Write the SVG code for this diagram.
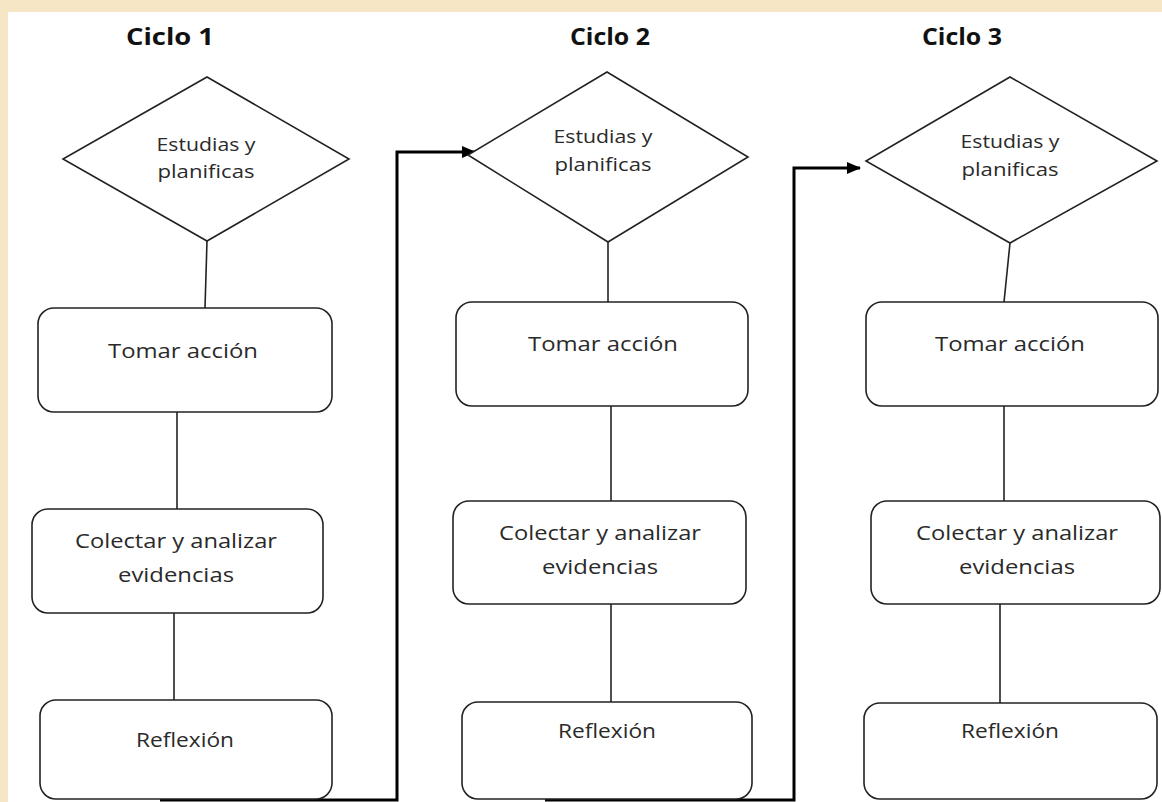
<svg xmlns="http://www.w3.org/2000/svg" width="1162" height="802" viewBox="0 0 1162 802">
<defs>
<style>
.bg{fill:#f6e6c5}
.panel{fill:#ffffff}
.shape{fill:#ffffff;stroke:#222;stroke-width:1.6}
.lbl{font-family:"Open Sans","Noto Sans",sans-serif;fill:#2a2a2a;text-anchor:middle}
.box{font-size:20px}
.dia{font-size:18.5px}
.title{font-family:"Open Sans","Noto Sans",sans-serif;font-weight:bold;font-size:23px;fill:#111;text-anchor:middle}
.thin{fill:none;stroke:#222;stroke-width:1.6}
.thick{fill:none;stroke:#000;stroke-width:3}
</style>
<marker id="arr" markerWidth="14" markerHeight="12" refX="13" refY="6" orient="auto" markerUnits="userSpaceOnUse" viewBox="0 0 14 12">
<path d="M0,0 L14,6 L0,12 z" fill="#000"/>
</marker>
</defs>
<rect class="bg" x="0" y="0" width="1162" height="802"/>
<rect class="panel" x="8" y="12" width="1154" height="790"/>

<g id="titles">
<text class="title" x="170" y="45" textLength="88" lengthAdjust="spacingAndGlyphs">Ciclo 1</text>
<text class="title" x="610" y="45" textLength="80" lengthAdjust="spacingAndGlyphs">Ciclo 2</text>
<text class="title" x="962" y="45" textLength="80" lengthAdjust="spacingAndGlyphs">Ciclo 3</text>
</g>

<g id="connectors">
<path class="thin" d="M207,241 L205,308"/>
<path class="thin" d="M177,412 L177,509"/>
<path class="thin" d="M174,613 L174,700"/>
<path class="thin" d="M608,242 L608,302"/>
<path class="thin" d="M611,406 L611,501"/>
<path class="thin" d="M611,604 L611,702"/>
<path class="thin" d="M1010,243 L1004,302"/>
<path class="thin" d="M1004,406 L1004,501"/>
<path class="thin" d="M1000,604 L1000,703"/>
<path class="thick" d="M160,800 L397,800 L397,152 L475,152" marker-end="url(#arr)"/>
<path class="thick" d="M545,800 L794,800 L794,168 L860,168" marker-end="url(#arr)"/>
</g>

<g id="c1-plan">
<polygon class="shape" points="207,77 349,159 207,241 63,159"/>
<text class="lbl dia" x="206" y="151" textLength="99" lengthAdjust="spacingAndGlyphs">Estudias y</text>
<text class="lbl dia" x="206" y="178" textLength="97" lengthAdjust="spacingAndGlyphs">planificas</text>
</g>
<g id="c1-accion">
<rect class="shape" x="38" y="308" width="294" height="104" rx="16"/>
<text class="lbl box" x="183" y="358" textLength="150" lengthAdjust="spacingAndGlyphs">Tomar acción</text>
</g>
<g id="c1-colectar">
<rect class="shape" x="32" y="509" width="291" height="104" rx="16"/>
<text class="lbl box" x="176" y="548" textLength="202" lengthAdjust="spacingAndGlyphs">Colectar y analizar</text>
<text class="lbl box" x="176" y="582" textLength="116" lengthAdjust="spacingAndGlyphs">evidencias</text>
</g>
<g id="c1-reflexion">
<rect class="shape" x="40" y="700" width="292" height="99" rx="16"/>
<text class="lbl box" x="185" y="747" textLength="98" lengthAdjust="spacingAndGlyphs">Reflexión</text>
</g>

<g id="c2-plan">
<polygon class="shape" points="607,72 748,157 608,242 468,155"/>
<text class="lbl dia" x="603" y="143" textLength="99" lengthAdjust="spacingAndGlyphs">Estudias y</text>
<text class="lbl dia" x="603" y="171" textLength="97" lengthAdjust="spacingAndGlyphs">planificas</text>
</g>
<g id="c2-accion">
<rect class="shape" x="456" y="302" width="292" height="104" rx="16"/>
<text class="lbl box" x="603" y="351" textLength="150" lengthAdjust="spacingAndGlyphs">Tomar acción</text>
</g>
<g id="c2-colectar">
<rect class="shape" x="453" y="501" width="293" height="103" rx="16"/>
<text class="lbl box" x="600" y="540" textLength="202" lengthAdjust="spacingAndGlyphs">Colectar y analizar</text>
<text class="lbl box" x="600" y="574" textLength="116" lengthAdjust="spacingAndGlyphs">evidencias</text>
</g>
<g id="c2-reflexion">
<rect class="shape" x="462" y="702" width="290" height="97" rx="16"/>
<text class="lbl box" x="607" y="738" textLength="98" lengthAdjust="spacingAndGlyphs">Reflexión</text>
</g>

<g id="c3-plan">
<polygon class="shape" points="1010,77 1157,161 1010,243 866,161"/>
<text class="lbl dia" x="1010" y="148" textLength="99" lengthAdjust="spacingAndGlyphs">Estudias y</text>
<text class="lbl dia" x="1010" y="176" textLength="97" lengthAdjust="spacingAndGlyphs">planificas</text>
</g>
<g id="c3-accion">
<rect class="shape" x="866" y="302" width="292" height="104" rx="16"/>
<text class="lbl box" x="1010" y="351" textLength="150" lengthAdjust="spacingAndGlyphs">Tomar acción</text>
</g>
<g id="c3-colectar">
<rect class="shape" x="871" y="501" width="289" height="103" rx="16"/>
<text class="lbl box" x="1017" y="540" textLength="202" lengthAdjust="spacingAndGlyphs">Colectar y analizar</text>
<text class="lbl box" x="1017" y="574" textLength="116" lengthAdjust="spacingAndGlyphs">evidencias</text>
</g>
<g id="c3-reflexion">
<rect class="shape" x="864" y="703" width="293" height="96" rx="16"/>
<text class="lbl box" x="1010" y="738" textLength="98" lengthAdjust="spacingAndGlyphs">Reflexión</text>
</g>
</svg>
